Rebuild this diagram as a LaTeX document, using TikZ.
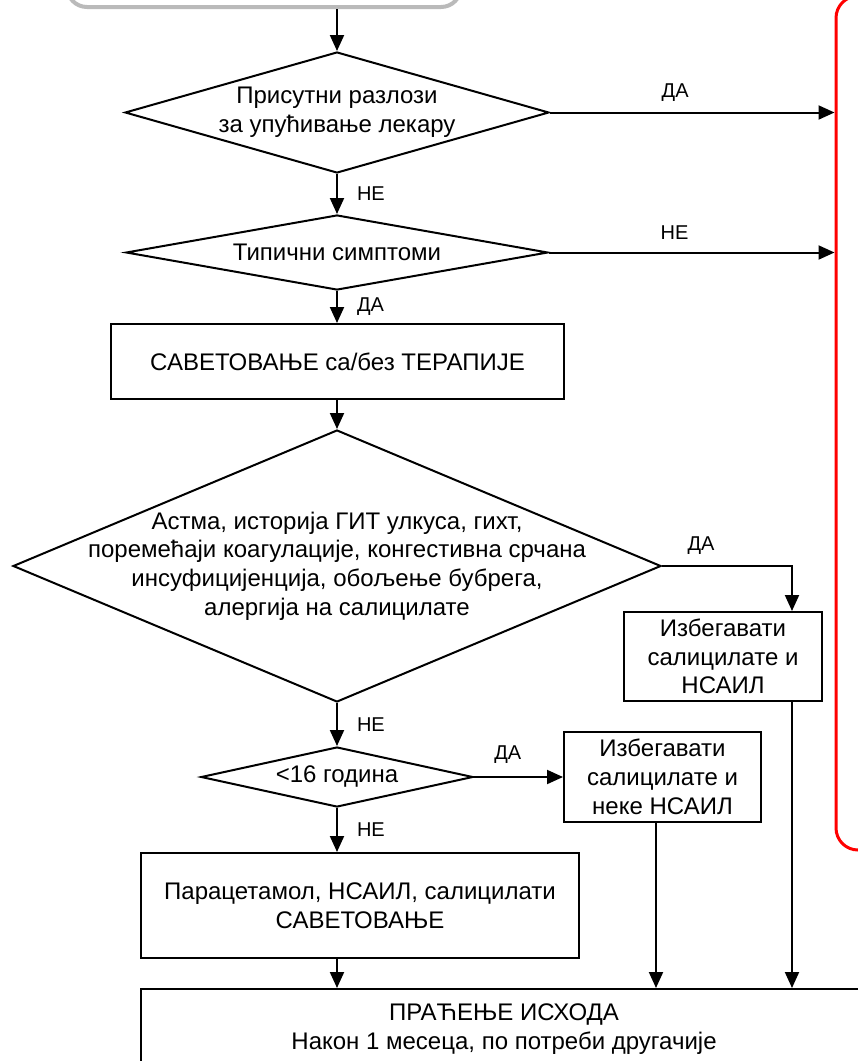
\documentclass[tikz,border=0pt]{standalone}
\usepackage{fontspec}
\setmainfont{Liberation Sans}
\usetikzlibrary{arrows.meta,shapes.geometric}
\begin{document}
\begin{tikzpicture}[x=1pt,y=-1pt,
  every node/.style={font=\fontsize{24}{28.8}\selectfont, align=center},
  box/.style={draw, line width=2pt, rectangle, inner sep=0pt},
  decision/.style={draw, line width=2pt, diamond, inner sep=0pt},
  flow/.style={line width=2pt, -{Triangle[length=16pt,width=14pt]}},
  answer/.style={font=\fontsize{20}{24}\selectfont, inner sep=0pt}]

\useasboundingbox (0,0) rectangle (858,1061);

% frame of the preceding step and the referral frame
\node[draw=black!27, line width=4pt, rounded corners=20pt, inner sep=0pt,
      minimum width=394, minimum height=47] (start) at (264,-16.5) {};
\node[draw=red, line width=3pt, rounded corners=22pt, inner sep=0pt,
      minimum width=100, minimum height=854] (refer) at (886,423) {};

% decisions
\node[decision, minimum width=424, minimum height=121,
      label={center:{Присутни разлози\\за упућивање лекару}}] (d1) at (337,112.5) {};
\node[decision, minimum width=422, minimum height=75,
      label={center:{Типични симптоми}}] (d2) at (337,252.5) {};
\node[decision, minimum width=648, minimum height=272,
      label={center:{Астма, историја ГИТ улкуса, гихт,\\поремећаји коагулације, конгестивна срчана\\инсуфицијенција, обољење бубрега,\\алергија на салицилате}}] (d3) at (337,566) {};
\node[decision, minimum width=272, minimum height=60,
      label={center:{<16 година}}] (d4) at (337,777) {};

% actions
\node[box, minimum width=453, minimum height=75] (advice) at (337.5,361.5)
  {САВЕТОВАЊЕ са/без ТЕРАПИЈЕ};
\node[box, minimum width=198, minimum height=89] (avoid1) at (723,656.5)
  {Избегавати\\салицилате и\\НСАИЛ};
\node[box, minimum width=197, minimum height=90] (avoid2) at (662.5,777)
  {Избегавати\\салицилате и\\неке НСАИЛ};
\node[box, minimum width=438, minimum height=105] (para) at (360,905.5)
  {Парацетамол, НСАИЛ, салицилати\\САВЕТОВАЊЕ};
\node[box, minimum width=726, minimum height=101] (outcome) at (504,1039.5) {};
\node (outcometext) at (504,1029) {ПРАЋЕЊЕ ИСХОДА\\Након 1 месеца, по потреби другачије};

% branch points
\coordinate (k1) at (792,566);
\coordinate (k2) at (656,0);

% connectors
\draw[flow] (d1.north |- start.south) -- (d1.north);
\draw[flow] (d1.east) -- (d1.east -| refer.west)
  node[answer, pos=0.44, yshift=20pt] {ДА};
\draw[flow] (d1.south) -- (d2.north)
  node[answer, midway, anchor=west, xshift=19pt] {НЕ};
\draw[flow] (d2.east) -- (d2.east -| refer.west)
  node[answer, pos=0.44, yshift=20pt] {НЕ};
\draw[flow] (d2.south) -- (d2.south |- advice.north)
  node[answer, midway, anchor=west, xshift=19pt] {ДА};
\draw[flow] (d2.south |- advice.south) -- (d3.north);
\draw[flow] (d3.east) -- (k1)
  node[answer, pos=0.3, yshift=20pt] {ДА} -- (k1 |- avoid1.north);
\draw[flow] (d3.south) -- (d4.north)
  node[answer, midway, anchor=west, xshift=19pt] {НЕ};
\draw[flow] (d4.east) -- (avoid2.west)
  node[answer, pos=0.38, yshift=22pt] {ДА};
\draw[flow] (d4.south) -- (d4.south |- para.north)
  node[answer, midway, anchor=west, xshift=19pt] {НЕ};
\draw[flow] (d4.south |- para.south) -- (d4.south |- outcome.north);
\draw[flow] (k2 |- avoid2.south) -- (k2 |- outcome.north);
\draw[flow] (k1 |- avoid1.south) -- (k1 |- outcome.north);

\end{tikzpicture}
\end{document}
